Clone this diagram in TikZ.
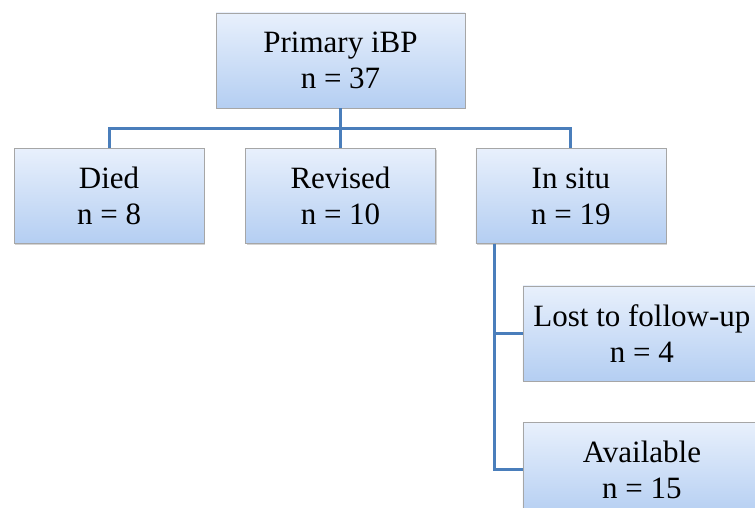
\documentclass[tikz,border=0pt]{standalone}
\usepackage{fontspec}
\setmainfont{Liberation Serif}
\usetikzlibrary{positioning}
\usetikzlibrary{shadows}
\definecolor{boxtop}{HTML}{E8F0FC}
\definecolor{boxbot}{HTML}{B4CEF2}
\definecolor{linkblue}{HTML}{4A7EBB}
\tikzset{node distance=40pt,
    every node/.style={
        font=\fontsize{31}{36}\selectfont},
    box/.style={
        draw=gray!70,
        thin,
        top color=boxtop,
        bottom color=boxbot,
        drop shadow={shadow xshift=1.2pt,shadow yshift=-1.2pt,opacity=0.35},
        align=center,
        inner sep=2pt,
        minimum width=190pt,
        minimum height=95pt},
    link/.style={
        draw=linkblue,
        line width=3pt}}
\begin{document}
\begin{tikzpicture}[x=1pt,y=1pt]
        \path[use as bounding box,clip] (0,0) rectangle (755,508);
        \node[box,minimum width=249pt] (primary) at (340.5,447.5) {Primary iBP\\n = 37};
        \node[box,below=40pt of primary] (revised) {Revised\\ n = 10};
        \node[box,left=41pt of revised] (died) {Died\\n = 8};
        \node[box,right=40pt of revised] (insitu) {In situ\\n = 19};
        \node[box,minimum width=238pt,below right=42pt and 47pt of insitu.south west] (lost) {Lost to follow-up\\n = 4};
        \node[box,minimum width=238pt,below=41pt of lost] (avail) {Available\\n = 15};

        \draw[link] (primary.south) -- (revised.north);
        \draw[link] (died.north) -- ++(0,20) -| (insitu.north);
        \draw[link] ([xshift=19pt]insitu.south west) |- (lost.west);
        \draw[link] ([xshift=19pt]insitu.south west) |- (avail.west);
    \end{tikzpicture}
\end{document}
